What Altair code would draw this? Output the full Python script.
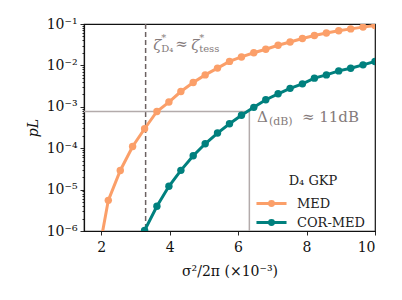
import altair as alt
import pandas as pd

# ---- data ----
x_med = [1.85, 2.21, 2.56, 2.92, 3.27, 3.63, 3.98, 4.33, 4.69, 5.04, 5.40, 5.75,
         6.10, 6.46, 6.81, 7.17, 7.52, 7.88, 8.23, 8.58, 8.94, 9.29, 9.65, 10.0]
p_med = [1.3e-7, 5.5e-6, 2.9e-5, 1.1e-4, 2.95e-4, 7.7e-4, 1.3e-3, 2.34e-3, 3.85e-3,
         5.9e-3, 8.6e-3, 1.25e-2, 1.6e-2, 2.02e-2, 2.46e-2, 3.07e-2, 3.68e-2,
         4.48e-2, 5.28e-2, 6.07e-2, 6.86e-2, 7.62e-2, 8.41e-2, 9.2e-2]
x_cor = [3.27, 3.63, 3.98, 4.33, 4.69, 5.04, 5.40, 5.75, 6.10, 6.46, 6.81, 7.17,
         7.52, 7.88, 8.23, 8.58, 8.94, 9.29, 9.65, 10.0]
p_cor = [1.03e-6, 3.96e-6, 1.2e-5, 2.92e-5, 6.6e-5, 1.28e-4, 2.32e-4, 3.89e-4,
         6.24e-4, 9.7e-4, 1.48e-3, 2.06e-3, 2.79e-3, 3.58e-3, 4.92e-3, 5.9e-3,
         7.36e-3, 8.57e-3, 1.03e-2, 1.24e-2]
series_names = ["MED", "COR-MED"]
series_colors = ["#fb9f69", "#00807e"]

zeta_star = 3.30      # vertical dashed line
p_target = 7.7e-4     # horizontal grey line
sigma_cor = 6.33      # vertical grey line

x_ticks = [2, 4, 6, 8, 10]
y_major = [1e-6, 1e-5, 1e-4, 1e-3, 1e-2, 1e-1]
y_ticks = sorted(set(y_major + [k * m for m in y_major[:-1] for k in range(2, 10)]))

FONT = "DejaVu Serif"
GREY_TXT = "#857b7b"

df = pd.concat([
    pd.DataFrame({"x": x_med, "p": p_med, "s": series_names[0]}),
    pd.DataFrame({"x": x_cor, "p": p_cor, "s": series_names[1]}),
])

xscale = alt.Scale(domain=[1.5, 10], nice=False, zero=False)
yscale = alt.Scale(type="log", domain=[1e-6, 1e-1], nice=False)

is_major = "abs(log(datum.value)/LN10 - round(log(datum.value)/LN10)) < 0.001"
sup = "['⁰','¹','²','³','⁴','⁵','⁶','⁷']"

legend_symbol = "M-1.67,0L1.67,0M0.22,0A0.22,0.22,0,1,1,-0.22,0A0.22,0.22,0,1,1,0.22,0Z"

lines = alt.Chart(df).mark_line(
    strokeWidth=3, clip=True,
    point=alt.OverlayMarkDef(filled=True, size=55, opacity=1, clip=True),
).encode(
    x=alt.X("x:Q", scale=xscale, axis=alt.Axis(
        values=x_ticks, format="d", title="σ²/2π (×10⁻³)", grid=False,
        tickSize=4, labelPadding=5, titlePadding=10)),
    y=alt.Y("p:Q", scale=yscale, axis=alt.Axis(
        values=y_ticks, grid=False, title="pL", titleFontStyle="italic",
        labelExpr=f"{is_major} ? '10⁻' + {sup}[-round(log(datum.value)/LN10)] : ''",
        tickSize={"condition": {"test": is_major, "value": 4}, "value": 2},
        labelPadding=3, titlePadding=6)),
    color=alt.Color("s:N", sort=series_names,
                    scale=alt.Scale(domain=series_names, range=series_colors),
                    legend=alt.Legend(
                        title="D₄ GKP", orient="none", legendX=177, legendY=151,
                        titleAnchor="middle", titleFont=FONT, titleFontSize=13,
                        titleFontWeight="normal", titleColor="#222",
                        labelFont=FONT, labelFontSize=13, labelColor="#222",
                        symbolType=legend_symbol, symbolSize=324,
                        symbolStrokeWidth=3, labelOffset=15, rowPadding=0,
                        symbolOpacity=1)),
)

vdash = alt.Chart(pd.DataFrame({"x": [zeta_star]})).mark_rule(
    color="#6b6161", strokeWidth=1.5, strokeDash=[5, 3]).encode(x=alt.X("x:Q", scale=xscale))

hline = alt.Chart(pd.DataFrame({"x": [1.5], "x2": [sigma_cor], "y": [p_target]})).mark_rule(
    color="#b3abab", strokeWidth=1.5).encode(
    x=alt.X("x:Q", scale=xscale), x2="x2:Q", y=alt.Y("y:Q", scale=yscale))

vline = alt.Chart(pd.DataFrame({"x": [sigma_cor], "y": [1e-6], "y2": [p_target]})).mark_rule(
    color="#b3abab", strokeWidth=1.5).encode(
    x=alt.X("x:Q", scale=xscale), y=alt.Y("y:Q", scale=yscale), y2="y2:Q")

def txt(x, y, s, size, dx=0, dy=0, italic=False):
    return alt.Chart(pd.DataFrame({"x": [x], "y": [y], "t": [s]})).mark_text(
        font=FONT, fontSize=size, color=GREY_TXT, align="left", baseline="middle",
        dx=dx, dy=dy, fontStyle="italic" if italic else "normal").encode(
        x=alt.X("x:Q", scale=xscale), y=alt.Y("y:Q", scale=yscale), text="t:N")

zx, zy = 3.52, 0.033
dx_, dy_ = 6.55, 5.6e-4
annots = [
    txt(zx, zy, "ζ", 15, 0, 1, True),
    txt(zx, zy, "*", 10, 8, -6),
    txt(zx, zy, "D₄", 10, 8, 5),
    txt(zx, zy, "≈", 15, 22, 0),
    txt(zx, zy, "ζ", 15, 38, 1, True),
    txt(zx, zy, "*", 10, 46, -6),
    txt(zx, zy, "tess", 10, 46, 5),
    txt(dx_, dy_, "Δ", 15, 0, 0),
    txt(dx_, dy_, "(dB)", 11, 12, 5),
    txt(dx_, dy_, "≈ 11dB", 15, 45, 0),
]

chart = alt.layer(vdash, hline, vline, lines, *annots).properties(
    width=291, height=207,
    autosize=alt.AutoSizeParams(type="none"),
    padding={"left": 76, "top": 16, "right": 10, "bottom": 50},
).configure_view(stroke="#111", strokeWidth=1.2).configure_axis(
    labelFont=FONT, titleFont=FONT, labelFontSize=14, titleFontSize=14,
    labelColor="#111", titleColor="#111", domainColor="#111", tickColor="#111",
    titleFontWeight="normal", domainWidth=1.2, tickWidth=0.9,
)

chart.save("out.html", embed_options={"renderer": "svg", "actions": False})
